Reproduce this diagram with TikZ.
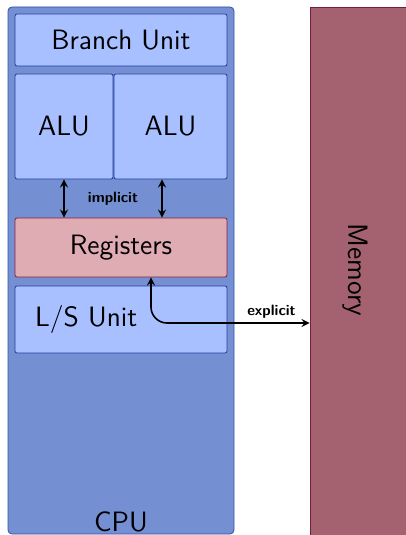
\documentclass[tikz,border=0pt]{standalone}
\usepackage{tikz}
\usetikzlibrary{calc}

\definecolor{cpufill}{RGB}{117,144,210}
\definecolor{cpuline}{RGB}{50,80,170}
\definecolor{unitfill}{RGB}{168,192,255}
\definecolor{unitline}{RGB}{30,60,160}
\definecolor{regfill}{RGB}{224,172,180}
\definecolor{regline}{RGB}{128,32,56}
\definecolor{memfill}{RGB}{164,98,112}
\definecolor{memline}{RGB}{122,28,56}

\tikzset{
  unit/.style={draw=unitline,fill=unitfill,rounded corners=1pt,inner sep=0pt,
    font=\sffamily\fontsize{14}{16}\selectfont},
  regbox/.style={unit,draw=regline,fill=regfill},
  note/.style={font=\sffamily\bfseries\fontsize{7.5}{9}\selectfont,inner sep=1pt}
}

\begin{document}
\begin{tikzpicture}[x=0.5pt,y=-0.5pt]
        \useasboundingbox (0,0) rectangle (406,535);
        \node[draw=cpuline,fill=cpufill,rounded corners=2pt,minimum width=113pt,minimum height=263.5pt] (cpu) at (121,270.5) {};
        \node[draw=memline,fill=memfill,minimum width=50pt,minimum height=267pt] (memory) at (360,274) {};
        \node[unit,minimum width=106pt,minimum height=26pt] (branch) at (121,40) {Branch Unit};
        \node[unit,minimum width=49pt,minimum height=52.5pt] (alu1) at (64,126.5) {ALU};
        \node[unit,minimum width=56.5pt,minimum height=52.5pt] (alu2) at (170.5,126.5) {ALU};
        \node[regbox,minimum width=106pt,minimum height=29.5pt] (regs) at (121,247.5) {Registers};
        \node[unit,text width=86pt,inner xsep=10pt,align=left,minimum height=33.5pt] (ls) at (121,319.5) {L/S Unit};
        \node[font=\sffamily\fontsize{14}{16}\selectfont,above=1pt,inner sep=0pt] (cpulabel) at (cpu.south) {CPU};
        \node[font=\sffamily\fontsize{14}{16}\selectfont,rotate=-90] (memlabel) at (355,270) {Memory};
        % implicit transfers ALU <-> registers
        \draw[stealth-stealth,thick] (alu1.south) -- (alu1.south |- regs.north);
        \draw[stealth-stealth,thick] ([xshift=-4.25pt]alu2.south) -- ([xshift=-4.25pt]alu2.south |- regs.north);
        \node[note] (impl) at (113,199) {implicit};
        % explicit load/store
        \coordinate (bus) at (151,323);
        \draw[stealth-stealth,thick,rounded corners=8pt] ([xshift=15pt]regs.south) |- (bus -| memory.west) node[note,pos=0.88,above=1pt] {explicit};
      \end{tikzpicture}
\end{document}
